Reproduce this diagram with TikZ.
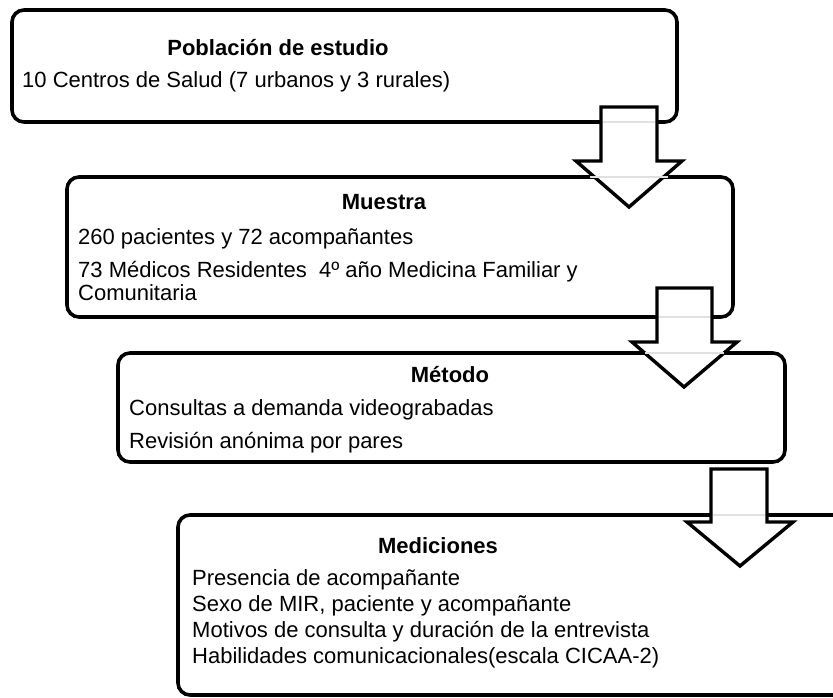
\documentclass[tikz,border=0pt]{standalone}
\usepackage{fontspec}
\setmainfont{Liberation Sans}
\begin{document}
\begin{tikzpicture}[x=1pt,y=-1pt,
  box/.style={draw=black,line width=3.6pt,rounded corners=12pt,fill=white},
  barrow/.style={draw=black,line width=3.4pt,fill=white,line join=miter},
  ghost/.style={draw=black!12,line width=2pt},
  ttl/.style={anchor=base,font=\fontsize{22}{24}\selectfont\bfseries,inner sep=0pt},
  txt/.style={anchor=base west,font=\fontsize{22}{24}\selectfont,inner sep=0pt}]
\useasboundingbox (0,0) rectangle (833,698);
\clip (0,0) rectangle (833,698);
% boxes
\draw[box] (12,10) rectangle (677,122);
\draw[box] (67,177) rectangle (733,317);
\draw[box] (118,353) rectangle (785,462);
\draw[box] (178,515) rectangle (845,695);
% block arrows
\draw[barrow] (601,107) -- (657,107) -- (657,161) -- (682,161) -- (629,207) -- (576,161) -- (601,161) -- cycle;
\draw[ghost] (603,122) -- (655,122) (590,177) -- (668,177);
\draw[barrow] (657,288) -- (712,288) -- (712,342) -- (737,342) -- (684,387) -- (632,342) -- (657,342) -- cycle;
\draw[ghost] (659,317) -- (710,317) (645,353) -- (724,353);
\draw[barrow] (711,469) -- (767,469) -- (767,522) -- (793,522) -- (740,566) -- (687,522) -- (711,522) -- cycle;
\draw[ghost] (713,515) -- (765,515);
% texts
\node[ttl] (t1) at (278,56) {Población de estudio};
\node[txt] (l11) at (22,88) {10 Centros de Salud (7 urbanos y 3 rurales)};
\node[ttl] (t2) at (384,209) {Muestra};
\node[txt] (l21) at (78,244) {260 pacientes y 72 acompañantes};
\node[txt] (l22) at (78,277) {73 Médicos Residentes\ \ 4º año Medicina Familiar y};
\node[txt] (l23) at (78,300) {Comunitaria};
\node[ttl] (t3) at (450,382) {Método};
\node[txt] (l31) at (129,415) {Consultas a demanda videograbadas};
\node[txt] (l32) at (129,448) {Revisión anónima por pares};
\node[ttl] (t4) at (438,553) {Mediciones};
\node[txt] (l41) at (192,585) {Presencia de acompañante};
\node[txt] (l42) at (192,611) {Sexo de MIR, paciente y acompañante};
\node[txt] (l43) at (192,637) {Motivos de consulta y duración de la entrevista};
\node[txt] (l44) at (192,663) {Habilidades comunicacionales(escala CICAA-2)};
\end{tikzpicture}
\end{document}
